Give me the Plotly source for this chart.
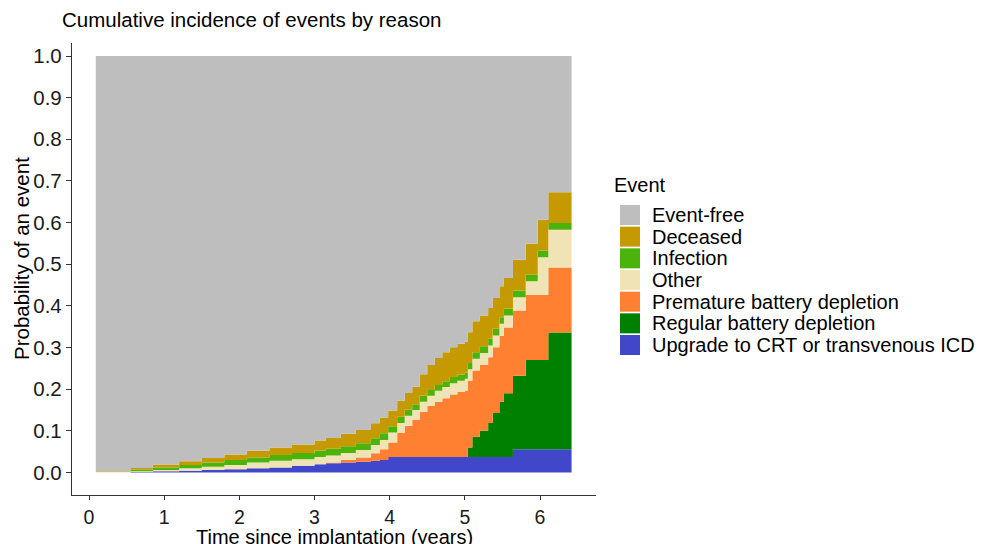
import plotly.graph_objects as go

# ---------------- data ----------------
times = [0.09, 0.55, 0.85, 1.20, 1.50, 1.80, 2.10, 2.40, 2.70, 3.00,
         3.15, 3.35, 3.55, 3.75, 3.87, 3.98, 4.10, 4.20, 4.30, 4.40,
         4.50, 4.60, 4.70, 4.80, 4.90, 5.00, 5.04, 5.10, 5.20, 5.31,
         5.37, 5.46, 5.52, 5.64, 5.81, 5.97, 6.11]
end_time = 6.42

upgrade = [0.000, 0.001, 0.003, 0.004, 0.006, 0.008, 0.010, 0.012, 0.016, 0.020,
           0.022, 0.024, 0.026, 0.028, 0.030, 0.037, 0.037, 0.037, 0.037, 0.037,
           0.037, 0.037, 0.037, 0.037, 0.037, 0.037, 0.037, 0.037, 0.037, 0.037,
           0.037, 0.037, 0.037, 0.056, 0.056, 0.056, 0.056]
regular = [0.0] * 26 + [0.023, 0.049, 0.063, 0.082, 0.106, 0.133, 0.153,
                        0.176, 0.214, 0.214, 0.280]
premature = [0.0] * 10 + [0.002, 0.006, 0.010, 0.018, 0.026, 0.035, 0.058, 0.075,
                          0.089, 0.109, 0.123, 0.133, 0.141, 0.150, 0.156, 0.160,
                          0.160, 0.159, 0.159, 0.158, 0.158, 0.158, 0.158, 0.157,
                          0.157, 0.157, 0.156]
other = [0.001, 0.002, 0.003, 0.006, 0.008, 0.010, 0.014, 0.016, 0.016, 0.017,
         0.017, 0.017, 0.018, 0.020, 0.022, 0.024, 0.024, 0.024, 0.024, 0.024,
         0.024, 0.026, 0.027, 0.027, 0.027, 0.028, 0.028, 0.028, 0.028, 0.028,
         0.028, 0.029, 0.029, 0.032, 0.032, 0.090, 0.091]
infection = [0.001, 0.004, 0.006, 0.008, 0.010, 0.012, 0.012, 0.014, 0.015, 0.016,
             0.016, 0.016, 0.016, 0.016, 0.016, 0.015, 0.015, 0.015, 0.014, 0.014,
             0.014, 0.014, 0.014, 0.015, 0.015, 0.015, 0.015, 0.016, 0.016, 0.016,
             0.016, 0.016, 0.016, 0.016, 0.016, 0.016, 0.016]
deceased = [0.001, 0.004, 0.007, 0.009, 0.011, 0.013, 0.016, 0.018, 0.020, 0.024,
            0.026, 0.030, 0.032, 0.036, 0.038, 0.038, 0.038, 0.040, 0.042, 0.052,
            0.060, 0.065, 0.070, 0.072, 0.074, 0.074, 0.074, 0.074, 0.074, 0.074,
            0.074, 0.074, 0.074, 0.074, 0.074, 0.074, 0.074]

legend_labels = ["Event-free", "Deceased", "Infection", "Other",
                 "Premature battery depletion", "Regular battery depletion",
                 "Upgrade to CRT or transvenous ICD"]
x_ticks = [0, 1, 2, 3, 4, 5, 6]
y_ticks = [0.0, 0.1, 0.2, 0.3, 0.4, 0.5, 0.6, 0.7, 0.8, 0.9, 1.0]
y_tick_labels = ["0.0", "0.1", "0.2", "0.3", "0.4", "0.5", "0.6", "0.7", "0.8", "0.9", "1.0"]

colors = {
    "Event-free": "#BEBEBE",
    "Deceased": "#C59A00",
    "Infection": "#4CB30A",
    "Other": "#F0E3B6",
    "Premature battery depletion": "#FF8030",
    "Regular battery depletion": "#008000",
    "Upgrade to CRT or transvenous ICD": "#4147C9",
}

# ---------------- layout geometry (screen pixels) ----------------
OFF = 8                      # default page body margin
SW, SH = 988, 544            # window size
W, H = SW - OFF, SH - OFF    # figure size
PL, PR, PT, PB = 72, 596, 43, 495   # plot panel edges in screen pixels
FONT = "Liberation Sans, Arial, sans-serif"


def px2paper_x(px):
    return (px - PL) / (PR - PL)


def px2paper_y(py):
    return (PB - py) / (PB - PT)


fig = go.Figure()

stack = [("Upgrade to CRT or transvenous ICD", upgrade),
         ("Regular battery depletion", regular),
         ("Premature battery depletion", premature),
         ("Other", other),
         ("Infection", infection),
         ("Deceased", deceased)]

xs = times + [end_time]
running = [0.0] * len(times)
for i, (name, vals) in enumerate(stack):
    running = [r + v for r, v in zip(running, vals)]
    ys = running + [running[-1]]
    fig.add_trace(go.Scatter(
        x=xs, y=ys, mode="lines", name=name,
        line=dict(width=0, shape="hv", color=colors[name]),
        fill="tozeroy" if i == 0 else "tonexty",
        fillcolor=colors[name], hoverinfo="skip", showlegend=False))

fig.add_trace(go.Scatter(
    x=xs, y=[1.0] * len(xs), mode="lines", name="Event-free",
    line=dict(width=0, shape="hv", color=colors["Event-free"]),
    fill="tonexty", fillcolor=colors["Event-free"],
    hoverinfo="skip", showlegend=False))

# ---------------- manual legend ----------------
shapes = []
annotations = []
annotations.append(dict(text="Event", x=px2paper_x(612), y=px2paper_y(185),
                        xref="paper", yref="paper", xanchor="left", yanchor="middle",
                        showarrow=False, font=dict(family=FONT, size=20, color="black")))
for k, lab in enumerate(legend_labels):
    cy = 215 + k * 21.67
    shapes.append(dict(type="rect", xref="paper", yref="paper",
                       x0=px2paper_x(620), x1=px2paper_x(640),
                       y0=px2paper_y(cy - 10), y1=px2paper_y(cy + 10),
                       fillcolor=colors[lab], line=dict(width=0)))
    annotations.append(dict(text=lab, x=px2paper_x(650), y=px2paper_y(cy),
                            xref="paper", yref="paper", xanchor="left", yanchor="middle",
                            showarrow=False,
                            font=dict(family=FONT, size=20, color="black")))

# axis titles
annotations.append(dict(text="Time since implantation (years)",
                        x=0.5, y=px2paper_y(537), xref="paper", yref="paper",
                        xanchor="center", yanchor="middle", showarrow=False,
                        font=dict(family=FONT, size=20, color="black")))
annotations.append(dict(text="Probability of an event",
                        x=px2paper_x(22), y=px2paper_y(259), xref="paper", yref="paper",
                        xanchor="center", yanchor="middle", showarrow=False, textangle=-90,
                        font=dict(family=FONT, size=20.5, color="black")))

x_per = (540 - 89) / 6.0
y_per = 472.5 - 56.0

fig.update_layout(
    width=W, height=H,
    margin=dict(l=PL - OFF, r=W - (PR - OFF), t=PT - OFF, b=H - (PB - OFF), pad=0),
    paper_bgcolor="white", plot_bgcolor="white",
    title=dict(text="Cumulative incidence of events by reason",
               x=(62 - OFF) / W, xref="container", xanchor="left",
               y=1 - (20 - OFF) / H, yref="container", yanchor="middle",
               font=dict(family=FONT, size=20.5, color="black")),
    shapes=shapes, annotations=annotations,
    showlegend=False,
    xaxis=dict(range=[(PL - 89) / x_per, (PR - 89) / x_per],
               tickmode="array", tickvals=x_ticks, ticktext=[str(t) for t in x_ticks],
               showgrid=False, zeroline=False, showline=True, linecolor="#333333",
               linewidth=1.3, ticks="outside", ticklen=4, tickwidth=1.3,
               tickcolor="#333333", ticklabelstandoff=0,
               tickfont=dict(family=FONT, size=19.5, color="#1a1a1a")),
    yaxis=dict(range=[-(PB - 472.5) / y_per, 1 + (56 - PT) / y_per],
               tickmode="array", tickvals=y_ticks, ticktext=y_tick_labels,
               showgrid=False, zeroline=False, showline=True, linecolor="#333333",
               linewidth=1.3, ticks="outside", ticklen=5, tickwidth=1.3,
               tickcolor="#333333",
               tickfont=dict(family=FONT, size=20.5, color="#1a1a1a")),
)

fig.write_html("out.html")
